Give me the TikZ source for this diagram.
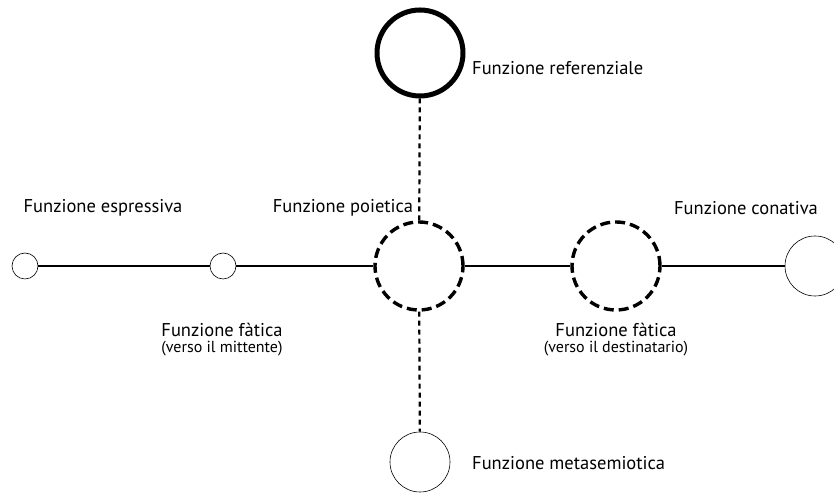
\documentclass[tikz,border=0pt]{standalone}
\usepackage{fontspec}
\setmainfont{PT Sans}
\usetikzlibrary{positioning}

\tikzset{
    small/.style={circle, draw, line width=0.6pt, inner sep=0pt, minimum size=26pt},
    big/.style={circle, draw, line width=0.6pt, inner sep=0pt, minimum size=60pt},
    dashcirc/.style={circle, draw, line width=3.4pt, dash pattern=on 10pt off 5pt, inner sep=0pt, minimum size=88pt},
    lbl/.style={font=\fontsize{18.5}{20}\selectfont, inner sep=0pt},
    sublbl/.style={font=\fontsize{16}{18}\selectfont, inner sep=0pt}
}

\begin{document}
\begin{tikzpicture}[x=1pt, y=1pt]
    \clip (0,0) rectangle (834,494);

    \node[small] (esp) at (25 , 228)   {};
    \node[small] (fatm) at (223 , 228) {};
    \node[dashcirc] (poi) at (419 , 228) {};
    \node[dashcirc] (fatd) at (616 , 228) {};
    \node[big] (con) at (815 , 228) {};
    \node[circle, draw, line width=5pt, inner sep=0pt, minimum size=86pt] (ref) at (420 , 441) {};
    \node[big] (meta) at (420 , 32) {};

    \node[lbl, anchor=west] (tref) at (472 , 426) {Funzione referenziale};
    \node[lbl] (tesp) at (103 , 286)  {Funzione espressiva};
    \node[lbl] (tpoi) at (343 , 286)  {Funzione poietica};
    \node[lbl] (tcon) at (746 , 286)  {Funzione conativa};
    \node[lbl] (tfatm) at (222 , 164) {Funzione fàtica};
    \node[sublbl] (sfatm) at (222 , 145) {(verso il mittente)};
    \node[lbl] (tfatd) at (616 , 164) {Funzione fàtica};
    \node[sublbl] (sfatd) at (616 , 145) {(verso il destinatario)};
    \node[lbl, anchor=west] (tmeta) at (472 , 31) {Funzione metasemiotica};

    \draw[line width=2pt, -] (esp) -- (fatm);
    \draw[line width=2pt, -] (fatm) -- (poi);
    \draw[line width=2pt, -] (poi) -- (fatd);
    \draw[line width=2pt, -] (fatd) -- (con);

    \draw[line width=2.2pt, dash pattern=on 5pt off 4pt, -] (ref) -- (poi);
    \draw[line width=2.2pt, dash pattern=on 5pt off 4pt, -] (poi) -- (meta);
\end{tikzpicture}
\end{document}
